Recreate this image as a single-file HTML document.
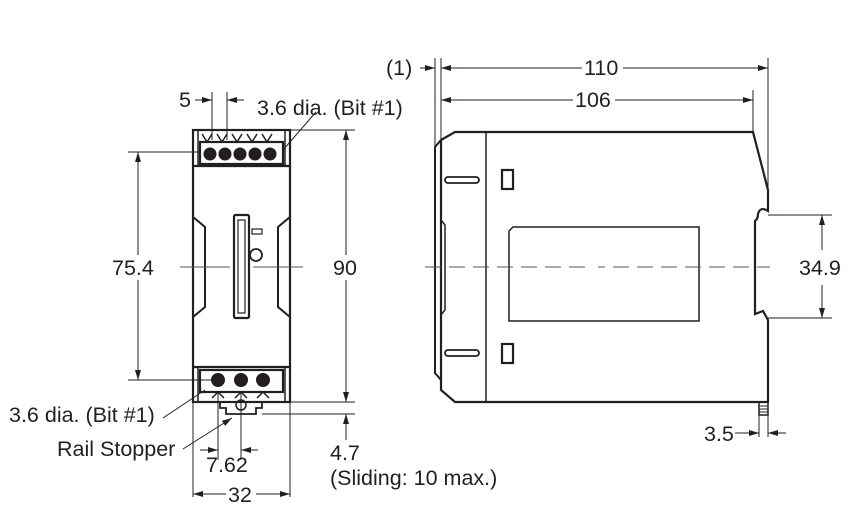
<!DOCTYPE html>
<html><head><meta charset="utf-8"><style>
html,body{margin:0;padding:0;background:#fff;}
svg{display:block;}
text{font-family:"Liberation Sans",sans-serif;font-size:21.5px;fill:#231f20;}
</style></head><body>
<svg width="849" height="528" viewBox="0 0 849 528" xmlns="http://www.w3.org/2000/svg">
<defs>
<marker id="a" viewBox="0 0 10 6" refX="10" refY="3" markerWidth="11" markerHeight="6" orient="auto-start-reverse" markerUnits="userSpaceOnUse"><path d="M0,0 L10,3 L0,6 z" fill="#231f20"/></marker>
</defs>
<g stroke="#231f20" fill="none" stroke-width="1">
<!-- ===== FRONT VIEW ===== -->
<g stroke-width="2.2">
<rect x="193" y="130" width="97" height="272"/>
<line x1="193" y1="166" x2="290" y2="166"/>
<line x1="193" y1="367" x2="290" y2="367"/>
<rect x="200" y="142" width="83" height="22"/>
<rect x="200" y="370" width="83" height="22"/>
</g>
<g fill="#231f20">
<circle cx="210" cy="154" r="6"/><circle cx="225" cy="154" r="6"/><circle cx="240" cy="154" r="6"/><circle cx="255" cy="154" r="6"/><circle cx="270" cy="154" r="6"/>
<circle cx="218" cy="380" r="6.5"/><circle cx="241" cy="380" r="6.5"/><circle cx="263" cy="380" r="6.5"/>
</g>
<path d="M202,134 l5,8 l5,-8 M217,134 l5,8 l5,-8 M232,134 l5,8 l5,-8 M247,134 l5,8 l5,-8 M262,134 l5,8 l5,-8" stroke-width="1.5"/>
<path d="M212,398 l6,-6 l6,6 M235,398 l6,-6 l6,6 M257,398 l6,-6 l6,6" stroke-width="1.5"/>
<line x1="198" y1="130" x2="198" y2="166" stroke-width="1.5"/><line x1="285" y1="130" x2="285" y2="166" stroke-width="1.5"/>
<line x1="198" y1="367" x2="198" y2="402" stroke-width="1.5"/><line x1="285" y1="367" x2="285" y2="402" stroke-width="1.5"/>
<path d="M220,402 v6 h6 v6 h30 v-6 h6 v-6" stroke-width="1.8"/>
<circle cx="241" cy="405" r="5" stroke-width="1.5"/>
<path d="M193,217 l12,10 v80 l-12,10" stroke-width="2"/>
<path d="M290,217 l-12,10 v80 l12,10" stroke-width="2"/>
<rect x="234" y="215" width="15" height="103" rx="1.5" stroke-width="2.2"/>
<rect x="238" y="220" width="7" height="93" stroke-width="1.2"/>
<rect x="252" y="229" width="10" height="5" stroke-width="1.2"/>
<circle cx="256" cy="255" r="6" stroke-width="1.8"/>
<path d="M180,267 H230 M253,267 H303" stroke="#555"/>
<!-- dims front -->
<line x1="128" y1="152" x2="200" y2="152"/>
<line x1="128" y1="380" x2="212" y2="380"/>
<line x1="138" y1="152" x2="138" y2="255" marker-start="url(#a)"/>
<line x1="138" y1="280" x2="138" y2="380" marker-end="url(#a)"/>
<line x1="290" y1="130" x2="355" y2="130"/>
<line x1="290" y1="402" x2="355" y2="402"/>
<line x1="262" y1="414" x2="355" y2="414"/>
<line x1="346" y1="130" x2="346" y2="255" marker-start="url(#a)"/>
<line x1="346" y1="280" x2="346" y2="402" marker-end="url(#a)"/>
<line x1="346" y1="440" x2="346" y2="414" marker-end="url(#a)"/>
<line x1="212" y1="92" x2="212" y2="140"/><line x1="227" y1="92" x2="227" y2="140"/>
<line x1="195" y1="100" x2="212" y2="100" marker-end="url(#a)"/>
<line x1="244" y1="100" x2="227" y2="100" marker-end="url(#a)"/>
<line x1="283" y1="150" x2="316" y2="112"/>
<line x1="163" y1="418" x2="205" y2="390"/>
<line x1="183" y1="449" x2="232" y2="418" marker-end="url(#a)"/>
<line x1="218" y1="392" x2="218" y2="460"/><line x1="241" y1="392" x2="241" y2="460"/>
<line x1="200" y1="450" x2="218" y2="450" marker-end="url(#a)"/>
<line x1="258" y1="450" x2="241" y2="450" marker-end="url(#a)"/>
<line x1="193" y1="402" x2="193" y2="497"/><line x1="290" y1="402" x2="290" y2="497"/>
<line x1="226" y1="494" x2="193" y2="494" marker-end="url(#a)"/>
<line x1="256" y1="494" x2="290" y2="494" marker-end="url(#a)"/>
<!-- ===== SIDE VIEW ===== -->
<path d="M441,140 L455,132 H753 L768,190 V211 q-8,-5 -10,3 q0,5 -3,7 V314 L763,311 L768,320 V402 H455 L441,390 Z" stroke-width="2.2"/>
<path d="M441,140 L435,147 V373 L441,380" stroke-width="2"/>
<line x1="486" y1="132" x2="486" y2="402" stroke-width="1.5"/>
<path d="M441,220 l4,5 v85 l-4,5" stroke-width="1.5"/>
<path d="M759,402 v13 h9 v-13" stroke-width="1.5"/>
<path d="M759,406 h9 M759,409 h9 M759,412 h9"/>
<rect x="445" y="177" width="34" height="6" rx="3" stroke-width="1.8"/>
<rect x="445" y="350" width="34" height="6" rx="3" stroke-width="1.8"/>
<rect x="502" y="170" width="11" height="19" stroke-width="2.2"/>
<rect x="502" y="344" width="11" height="19" stroke-width="2.2"/>
<path d="M513,227 H699 V321 H509 V231 Z" stroke-width="1.5"/>
<path d="M425,267 H590 M598,267 H605 M613,267 H770" stroke="#555" stroke-dasharray="16,8"/>
<!-- side dims -->
<line x1="435" y1="58" x2="435" y2="147"/>
<line x1="441" y1="58" x2="441" y2="140"/>
<line x1="768" y1="58" x2="768" y2="190"/>
<line x1="753" y1="90" x2="753" y2="132"/>
<line x1="420" y1="68" x2="435" y2="68" marker-end="url(#a)"/>
<line x1="441" y1="68" x2="582" y2="68" marker-start="url(#a)"/>
<line x1="623" y1="68" x2="768" y2="68" marker-end="url(#a)"/>
<line x1="441" y1="100" x2="573" y2="100" marker-start="url(#a)"/>
<line x1="615" y1="100" x2="753" y2="100" marker-end="url(#a)"/>
<line x1="768" y1="215" x2="832" y2="215"/>
<line x1="768" y1="318" x2="832" y2="318"/>
<line x1="822" y1="215" x2="822" y2="250" marker-start="url(#a)"/>
<line x1="822" y1="285" x2="822" y2="318" marker-end="url(#a)"/>
<line x1="759" y1="415" x2="759" y2="437"/><line x1="768" y1="415" x2="768" y2="437"/>
<line x1="735" y1="433" x2="759" y2="433" marker-end="url(#a)"/>
<line x1="786" y1="433" x2="768" y2="433" marker-end="url(#a)"/>
</g>
<text x="179" y="107">5</text>
<text x="257" y="115">3.6 dia. (Bit #1)</text>
<text x="112" y="275">75.4</text>
<text x="333" y="275">90</text>
<text x="386" y="75">(1)</text>
<text x="584" y="75">110</text>
<text x="575" y="107">106</text>
<text x="799" y="275">34.9</text>
<text x="704" y="441">3.5</text>
<text x="9" y="422">3.6 dia. (Bit #1)</text>
<text x="57" y="456">Rail Stopper</text>
<text x="206" y="472">7.62</text>
<text x="330" y="460">4.7</text>
<text x="330" y="485">(Sliding: 10 max.)</text>
<text x="228" y="502">32</text>
</svg>
</body></html>
